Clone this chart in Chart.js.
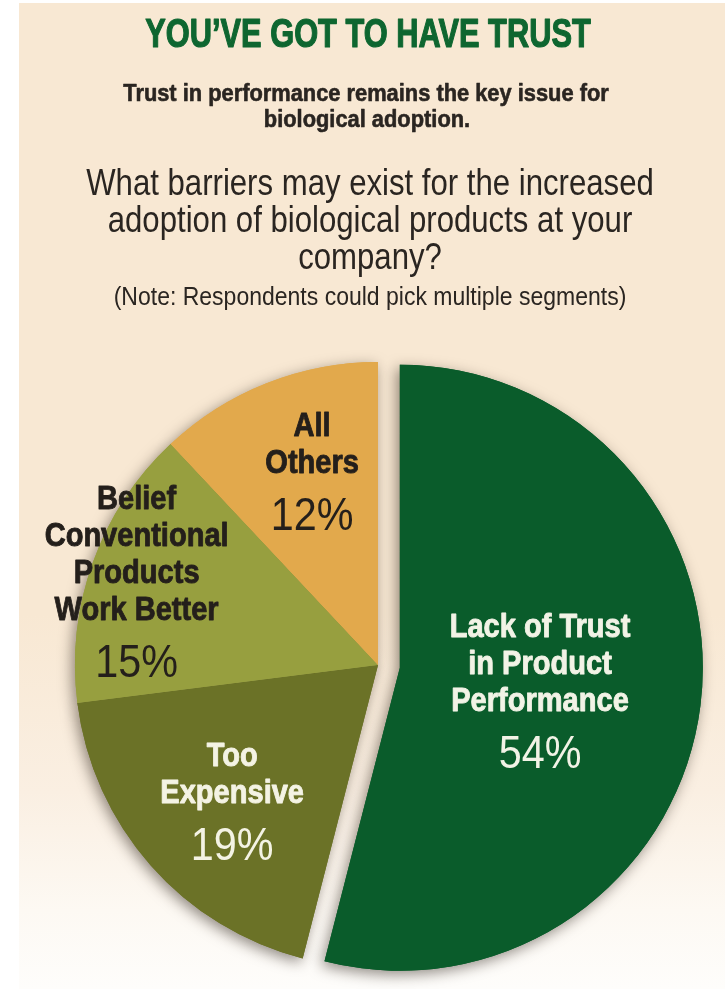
<!DOCTYPE html>
<html>

<head>
    <title>You've Got To Have Trust</title>
    <script src="https://cdn.jsdelivr.net/npm/chart.js"></script>
    <style>
        html, body {
            margin: 0;
            padding: 0;
            background: #ffffff;
        }

        #page {
            position: relative;
            width: 725px;
            height: 989px;
            overflow: hidden;
        }

        /* beige panel that fades out near the bottom */
        #panel {
            position: absolute;
            left: 19px;
            top: 3px;
            right: 0;
            bottom: 0;
            background: linear-gradient(to bottom, #f8e8d3 0%, #f8e8d3 62%, #faefe2 80%, #fdf9f3 92%, #fefdfb 100%);
        }

        #chart {
            position: absolute;
            left: 0;
            top: 0;
        }
    </style>
</head>

<body>
    <div id="page">
        <div id="panel"></div>
        <canvas id="chart" width="725" height="989"></canvas>
    </div>

    <script>
        // survey answers, clockwise from the top
        const barriers = ['Lack of Trust in Product Performance', 'Too Expensive', 'Belief Conventional Products Work Better', 'All Others'];
        const barrierLines = [
            ['Lack of Trust', 'in Product', 'Performance'],
            ['Too', 'Expensive'],
            ['Belief', 'Conventional', 'Products', 'Work Better'],
            ['All', 'Others']
        ];
        const shares = [54, 19, 15, 12];

        const headline = 'YOU\u2019VE GOT TO HAVE TRUST';
        const deck = ['Trust in performance remains the key issue for', 'biological adoption.'];
        const question = ['What barriers may exist for the increased', 'adoption of biological products at your', 'company?'];
        const note = '(Note: Respondents could pick multiple segments)';

        const sliceColors = ['#0a5c2b', '#6b7227', '#979f3f', '#e2a94c'];
        const labelColors = ['#f2f3e6', '#f4f3e4', '#241f1b', '#241f1b'];
        // where each label block sits: share of radius from the centre, small turn in degrees
        const labelSpots = [
            { r: 0.469, turn: 2.2 },
            { r: 0.658, turn: -1.6 },
            { r: 0.843, turn: -0.7 },
            { r: 0.675, turn: 2.8 }
        ];

        const FONT = '"Liberation Sans", Arial, sans-serif';

        // draw text squeezed horizontally, centred on x; heavy adds a thin outline
        function squeezed(ctx, text, x, y, sx, heavy) {
            ctx.save();
            ctx.translate(x, y);
            ctx.scale(sx, 1);
            ctx.textAlign = 'center';
            ctx.fillText(text, 0, 0);
            if (heavy) {
                ctx.strokeStyle = ctx.fillStyle;
                ctx.lineWidth = heavy;
                ctx.lineJoin = 'round';
                ctx.strokeText(text, 0, 0);
            }
            ctx.restore();
        }

        // pulls a slice out and paints a soft shadow under the pie
        const explodePlugin = {
            id: 'explode',
            beforeDatasetDraw(chart, args) {
                const ctx = chart.ctx;
                const ds = chart.data.datasets[args.index];
                const arcs = args.meta.data;
                [true, false].forEach(function (shadow) {
                    arcs.forEach(function (arc, i) {
                        const pull = ds.pull ? ds.pull[i] : 0;
                        const mid = (arc.startAngle + arc.endAngle) / 2;
                        ctx.save();
                        if (shadow) {
                            ctx.shadowColor = 'rgba(40, 30, 20, 0.50)';
                            ctx.shadowBlur = 14;
                            ctx.shadowOffsetX = -3;
                            ctx.shadowOffsetY = 4;
                        }
                        ctx.translate(Math.cos(mid) * pull, Math.sin(mid) * pull);
                        arc.draw(ctx);
                        ctx.restore();
                    });
                });
                return false;
            }
        };

        const sliceLabelPlugin = {
            id: 'sliceLabels',
            afterDatasetsDraw(chart) {
                const ctx = chart.ctx;
                const ds = chart.data.datasets[0];
                const arcs = chart.getDatasetMeta(0).data;
                arcs.forEach(function (arc, i) {
                    const p = arc.getProps(['x', 'y', 'startAngle', 'endAngle', 'outerRadius'], true);
                    const mid = (p.startAngle + p.endAngle) / 2;
                    const pull = ds.pull ? ds.pull[i] : 0;
                    const cx = p.x + Math.cos(mid) * pull;
                    const cy = p.y + Math.sin(mid) * pull;
                    const a = mid + labelSpots[i].turn * Math.PI / 180;
                    const ax = cx + Math.cos(a) * p.outerRadius * labelSpots[i].r;
                    const ay = cy + Math.sin(a) * p.outerRadius * labelSpots[i].r;

                    const lines = barrierLines[i];
                    const pitch = 37;
                    const gap = 57;
                    let y = ay - ((lines.length - 1) * pitch + gap - 24) / 2;
                    ctx.save();
                    ctx.fillStyle = labelColors[i];
                    ctx.textBaseline = 'alphabetic';
                    ctx.font = 'bold 33px ' + FONT;
                    lines.forEach(function (line, k) {
                        squeezed(ctx, line, ax, y + k * pitch, 0.88, 0.9);
                    });
                    ctx.font = '47px ' + FONT;
                    squeezed(ctx, ds.data[i] + '%', ax, y + (lines.length - 1) * pitch + gap, 0.88);
                    ctx.restore();
                });
            }
        };

        const headerPlugin = {
            id: 'header',
            afterDraw(chart) {
                const ctx = chart.ctx;
                ctx.save();
                ctx.textBaseline = 'alphabetic';

                ctx.fillStyle = '#0e6630';
                ctx.font = 'bold 40px ' + FONT;
                squeezed(ctx, headline, 368, 47, 0.77, 1.2);

                ctx.fillStyle = '#2a2521';
                ctx.font = 'bold 24px ' + FONT;
                squeezed(ctx, deck[0], 366, 101, 0.91, 0.6);
                squeezed(ctx, deck[1], 367, 127, 0.91, 0.6);

                ctx.font = '36px ' + FONT;
                question.forEach(function (line, k) {
                    squeezed(ctx, line, 370, 195 + k * 37, 0.865);
                });

                ctx.font = '25px ' + FONT;
                squeezed(ctx, note, 370, 305, 0.92);
                ctx.restore();
            }
        };

        const chart = new Chart(document.getElementById('chart'), {
            type: 'pie',
            data: {
                labels: barriers,
                datasets: [{
                    data: shares,
                    backgroundColor: sliceColors,
                    borderWidth: 0,
                    pull: [22, 0, 0, 0]
                }]
            },
            options: {
                responsive: false,
                animation: false,
                devicePixelRatio: 1,
                radius: 303,
                layout: {
                    padding: { left: 40, right: 9, top: 350, bottom: 9 }
                },
                plugins: {
                    legend: { display: false },
                    tooltip: { enabled: false }
                }
            },
            plugins: [explodePlugin, sliceLabelPlugin, headerPlugin]
        });
    </script>
</body>

</html>
